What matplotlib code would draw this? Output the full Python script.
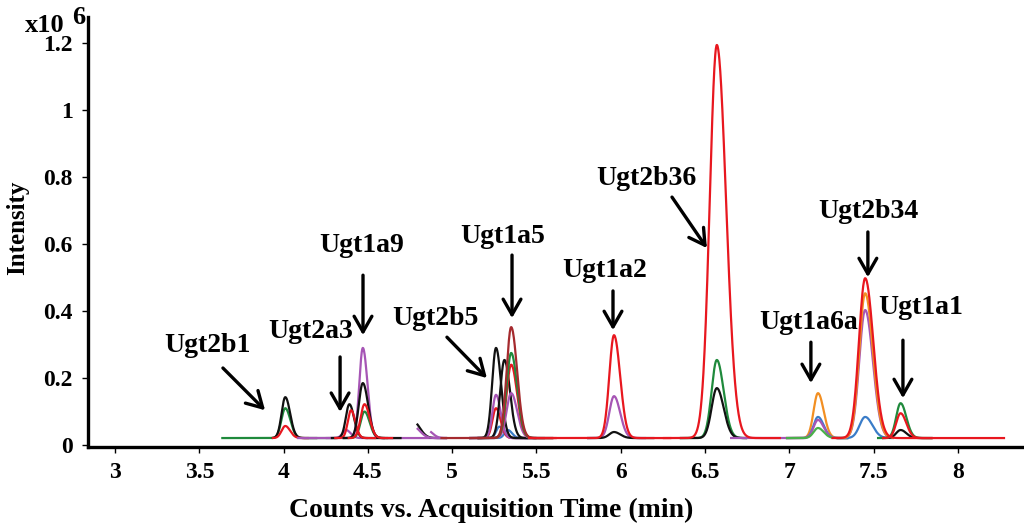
import matplotlib
matplotlib.use("Agg")
import matplotlib.pyplot as plt
import numpy as np

plt.rcParams.update({"font.family": ["Liberation Serif", "DejaVu Serif"], "font.weight": "bold",
                     "font.size": 16})

BASE = 0.021   # flat baseline of every trace (x10^6)
TAIL = 1.3     # right-hand sigma / left-hand sigma (peak tailing)
GRN = "#1f8a3c"; RED = "#e8171f"; BLK = "#111111"; PUR = "#a655b5"
BRN = "#a52a2e"; BLU = "#3a7cc8"; ORG = "#f28f22"; LGR = "#49b04a"

# one row per MRM trace: colour, window start, window end, peak time (min), apex (x10^6), peak sigma (min)
tr_color = [GRN, BLK, RED, PUR, PUR, GRN, BLK, RED, BLK, RED, BLK, PUR, PUR,
            BLU, BLU, RED, PUR, BLK, BLK, PUR, RED, GRN, BRN,
            PUR, BLK, RED, GRN, BLK, PUR, RED,
            ORG, BLU, PUR, LGR, BLU, PUR, ORG, BLK, GRN, RED, RED]
tr_start = [3.63, 3.93, 3.93, 4.08, 4.25, 4.35, 4.28, 4.30, 4.35, 4.38, 4.79, 4.79, 4.87,
            5.10, 5.15, 5.10, 5.10, 5.10, 5.15, 5.15, 5.15, 5.15, 4.93,
            5.80, 5.80, 5.45, 6.35, 6.35, 6.65, 6.25,
            6.98, 6.98, 6.98, 6.98, 7.28, 7.28, 7.28, 7.55, 7.52, 7.55, 7.25]
tr_end = [4.32, 4.20, 4.15, 4.93, 4.50, 4.62, 4.60, 4.55, 4.70, 4.65, 4.97, 4.97, 4.97,
          5.45, 5.50, 5.45, 5.45, 5.50, 5.55, 5.60, 5.60, 5.60, 5.62,
          6.15, 6.20, 6.30, 6.75, 6.75, 7.10, 6.95,
          7.35, 7.35, 7.35, 7.35, 7.62, 7.62, 7.62, 7.85, 7.85, 7.85, 8.28]
tr_rt = [4.01, 4.01, 4.01, 4.47, 4.37, 4.48, 4.39, 4.40, 4.47, 4.48, 4.77, 4.77, 4.85,
         5.28, 5.33, 5.26, 5.26, 5.26, 5.31, 5.35, 5.35, 5.35, 5.35,
         5.96, 5.96, 5.96, 6.57, 6.57, 6.80, 6.57,
         7.17, 7.17, 7.17, 7.17, 7.45, 7.45, 7.45, 7.66, 7.66, 7.66, 7.45]
tr_apex = [0.110, 0.143, 0.057, 0.290, 0.045, 0.100, 0.122, 0.104, 0.185, 0.122, 0.070, 0.055, 0.045,
           0.055, 0.045, 0.110, 0.150, 0.290, 0.254, 0.155, 0.240, 0.275, 0.352,
           0.146, 0.039, 0.328, 0.254, 0.170, 0.021, 1.194,
           0.155, 0.084, 0.075, 0.051, 0.084, 0.403, 0.453, 0.045, 0.125, 0.095, 0.498]
tr_sigma = [0.023, 0.022, 0.022, 0.021, 0.021, 0.023, 0.021, 0.019, 0.024, 0.023, 0.030, 0.030, 0.025,
            0.019, 0.019, 0.021, 0.021, 0.023, 0.025, 0.027, 0.027, 0.027, 0.027,
            0.028, 0.028, 0.028, 0.031, 0.031, 0.030, 0.042,
            0.026, 0.026, 0.026, 0.026, 0.033, 0.035, 0.035, 0.026, 0.026, 0.026, 0.037]

# peak labels: name, text position, arrow tail, arrow head (data coords)
lab_name = ["Ugt2b1", "Ugt2a3", "Ugt1a9", "Ugt2b5", "Ugt1a5", "Ugt1a2", "Ugt2b36", "Ugt1a6a", "Ugt2b34", "Ugt1a1"]
lab_xy = [(3.55, 0.296), (4.16, 0.340), (4.465, 0.597), (4.90, 0.379), (5.30, 0.621),
          (5.906, 0.522), (6.15, 0.797), (7.116, 0.367), (7.466, 0.696), (7.78, 0.412)]
arr_from = [(3.64, 0.230), (4.335, 0.263), (4.471, 0.507), (4.969, 0.322), (5.355, 0.567),
            (5.954, 0.460), (6.304, 0.740), (7.128, 0.307), (7.466, 0.636), (7.674, 0.313)]
arr_to = [(3.89, 0.104), (4.335, 0.099), (4.471, 0.328), (5.206, 0.200), (5.355, 0.379),
          (5.954, 0.343), (6.511, 0.588), (7.128, 0.185), (7.466, 0.501), (7.674, 0.140)]

xticks = [3, 3.5, 4, 4.5, 5, 5.5, 6, 6.5, 7, 7.5, 8]
yticks = [0, 0.2, 0.4, 0.6, 0.8, 1, 1.2]

fig = plt.figure(figsize=(10.24, 5.26), dpi=100)
ax = fig.add_axes([0.086, 0.150, 0.912, 0.818])

for c, t0, t1, rt, h, s in zip(tr_color, tr_start, tr_end, tr_rt, tr_apex, tr_sigma):
    t = np.linspace(t0, t1, 400)
    sig = np.where(t < rt, s, s * TAIL)
    y = BASE + (h - BASE) * np.exp(-0.5 * ((t - rt) / sig) ** 2)
    ax.plot(t, y, color=c, lw=1.6, solid_capstyle="butt")

for name, xy, a0, a1 in zip(lab_name, lab_xy, arr_from, arr_to):
    ax.text(xy[0], xy[1], name, ha="center", va="center", fontsize=20, fontweight="bold")
    ax.annotate("", xy=a1, xytext=a0,
                arrowprops=dict(arrowstyle="->,head_length=0.7,head_width=0.4", lw=2.4, color="black",
                                shrinkA=0, shrinkB=0))

ax.set_xlim(2.84, 8.38)
ax.set_ylim(-0.006, 1.278)
ax.set_xticks(xticks)
ax.set_xticklabels([f"{v:g}" for v in xticks])
ax.set_yticks(yticks)
ax.set_yticklabels([f"{v:g}" for v in yticks])
for s in ["top", "right"]:
    ax.spines[s].set_visible(False)
for s in ["left", "bottom"]:
    ax.spines[s].set_linewidth(2.4)
ax.tick_params(axis="both", direction="out", length=4, width=1, labelsize=17, pad=7)

fig.text(491 / 1024, 1 - 510 / 526, "Counts vs. Acquisition Time (min)", ha="center", va="center",
         fontsize=20, fontweight="bold")
fig.text(18 / 1024, 1 - 228 / 526, "Intensity", ha="center", va="center", rotation=90,
         fontsize=18, fontweight="bold")
fig.text(45 / 1024, 1 - 26 / 526, "x10", ha="center", va="center", fontsize=19, fontweight="bold")
fig.text(79 / 1024, 1 - 17 / 526, "6", ha="center", va="center", fontsize=19, fontweight="bold")

fig.savefig("out.png", dpi=100, facecolor="white")
